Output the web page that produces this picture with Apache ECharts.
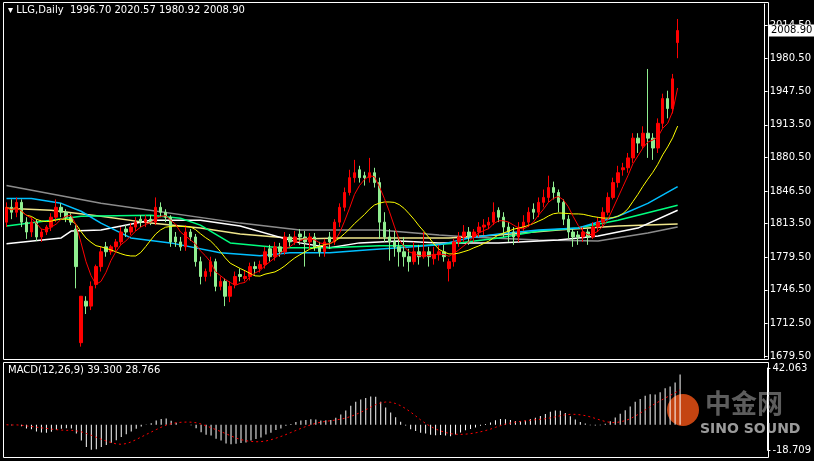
<!DOCTYPE html>
<html><head><meta charset="utf-8">
<script src="https://cdn.jsdelivr.net/npm/echarts@6/dist/echarts.min.js"></script>
<style>html,body{margin:0;padding:0;background:#000}#c{width:814px;height:461px}</style>
</head><body><div id="c"></div>
<script>
const opens = [1815,1830,1825,1835,1815,1805,1815,1800,1805,1810,
1820,1830,1825,1820,1808,1693,1735,1730,1752,1770,
1790,1785,1790,1795,1808,1805,1810,1818,1815,1818,
1815,1830,1825,1820,1800,1795,1790,1805,1800,1775,
1760,1765,1775,1750,1755,1740,1752,1762,1758,1760,
1770,1768,1772,1788,1780,1790,1785,1800,1795,1803,
1800,1795,1800,1790,1785,1800,1795,1815,1830,1845,
1860,1868,1862,1860,1865,1855,1815,1800,1795,1790,
1785,1780,1775,1785,1780,1785,1778,1782,1785,1768,
1775,1795,1800,1805,1800,1805,1810,1812,1815,1827,
1820,1810,1805,1800,1810,1815,1828,1825,1835,1840,
1850,1845,1835,1818,1805,1802,1800,1805,1800,1810,
1815,1825,1840,1855,1868,1870,1880,1900,1892,1905,
1900,1890,1915,1940,1930,1996.70];
const closes = [1830,1825,1835,1815,1805,1815,1800,1805,1810,1820,
1830,1825,1820,1815,1770,1740,1730,1750,1770,1785,
1785,1790,1795,1805,1805,1810,1815,1815,1818,1815,
1830,1825,1820,1795,1795,1790,1805,1800,1775,1760,
1765,1775,1750,1755,1740,1750,1760,1760,1760,1770,
1768,1772,1785,1780,1790,1785,1800,1795,1800,1800,
1795,1800,1790,1785,1795,1795,1815,1830,1845,1860,
1865,1860,1860,1865,1855,1815,1800,1795,1790,1785,
1780,1775,1785,1780,1785,1780,1782,1785,1780,1775,
1795,1800,1805,1800,1805,1810,1812,1815,1825,1820,
1810,1805,1800,1810,1815,1825,1825,1835,1840,1850,
1845,1835,1818,1805,1800,1800,1805,1800,1810,1815,
1825,1840,1855,1865,1870,1880,1900,1895,1905,1900,
1890,1915,1940,1930,1960,2008.90];
const highs = [1835,1838,1840,1838,1820,1820,1818,1808,1812,1824,
1838,1834,1828,1824,1812,1738,1740,1755,1772,1790,
1795,1792,1798,1810,1812,1814,1820,1822,1822,1822,
1840,1835,1828,1822,1805,1800,1812,1808,1803,1780,
1768,1780,1778,1760,1758,1755,1765,1768,1766,1774,
1775,1776,1790,1792,1795,1794,1805,1803,1806,1808,
1806,1804,1804,1795,1798,1805,1818,1834,1850,1868,
1878,1872,1866,1880,1870,1860,1825,1808,1806,1800,
1800,1788,1795,1792,1805,1790,1790,1792,1792,1778,
1798,1805,1812,1810,1808,1815,1818,1820,1835,1830,
1825,1815,1810,1815,1822,1830,1834,1840,1848,1862,
1856,1848,1838,1822,1808,1806,1810,1808,1815,1820,
1830,1845,1860,1872,1875,1885,1905,1905,1912,1970,
1905,1920,1945,1948,1965,2020.57];
const lows = [1810,1818,1820,1810,1798,1800,1796,1795,1802,1806,
1815,1820,1815,1812,1748,1689,1722,1726,1748,1765,
1780,1782,1786,1792,1800,1802,1806,1810,1810,1812,
1812,1820,1815,1790,1790,1786,1786,1796,1770,1752,
1755,1760,1745,1746,1730,1734,1748,1755,1755,1756,
1762,1764,1768,1775,1776,1780,1782,1790,1792,1792,
1770,1788,1786,1780,1780,1788,1792,1810,1826,1842,
1855,1855,1852,1855,1850,1798,1795,1776,1780,1770,
1770,1765,1772,1772,1778,1770,1772,1776,1775,1755,
1770,1790,1795,1792,1795,1800,1802,1808,1812,1815,
1800,1795,1792,1795,1806,1810,1818,1820,1830,1835,
1838,1825,1812,1798,1790,1792,1795,1792,1798,1805,
1810,1822,1838,1850,1862,1865,1875,1885,1890,1880,
1878,1885,1910,1920,1925,1980.92];
// long moving averages: [bar index, value]
const maGray = [[0,1852],[19,1834],[47,1814],[59,1807],[75,1807],[87,1802],[93,1800],[107,1797],[119,1796],[129,1804],[135,1810]];
const maWhite = [[0,1793],[11,1799],[13,1806],[19,1807],[29,1817],[39,1817],[47,1811],[59,1794],[65,1789],[71,1794],[79,1796],[87,1794],[99,1794],[111,1797],[119,1801],[127,1809],[135,1827]];
const maKhaki = [[0,1829],[9,1827],[19,1821],[29,1814],[39,1809],[47,1803],[59,1798],[67,1799],[79,1799],[89,1799],[99,1802],[111,1807],[123,1811],[135,1813]];
const maGreen = [[0,1811],[9,1817],[15,1821],[29,1822],[35,1819],[39,1812],[45,1794],[55,1789],[65,1789],[75,1791],[83,1791],[91,1794],[99,1799],[107,1806],[115,1809],[123,1817],[131,1827],[135,1832]];
const maCyan = [[0,1839],[5,1839],[11,1834],[15,1826],[19,1814],[25,1799],[33,1794],[43,1784],[51,1781],[57,1784],[65,1784],[73,1787],[79,1789],[87,1792],[93,1799],[99,1803],[107,1807],[115,1809],[123,1821],[129,1834],[135,1851]];
const priceTicks = [2014.50,1980.50,1947.50,1913.50,1880.50,1846.50,1813.50,1779.50,1746.50,1712.50,1679.50];
const macdTicks = [42.063,-18.709];
const SLOTS = 153;

function sma(arr,p){return arr.map((v,i)=>{const s=Math.max(0,i-p+1);const w=arr.slice(s,i+1);return +(w.reduce((a,b)=>a+b,0)/w.length).toFixed(2);});}
function ema(arr,p){const k=2/(p+1);let e=arr[0];return arr.map(v=>(e=v*k+e*(1-k)));}
const e12=ema(closes,12), e26=ema(closes,26);
const macd=closes.map((c,i)=>+(e12[i]-e26[i]).toFixed(3));
const signal=sma(macd,9);
const ma5=sma(closes,5), ma13=sma(closes,13);
const cats=Array.from({length:SLOTS},(_,i)=>i);
const candleData=opens.map((o,i)=>[o,closes[i],lows[i],highs[i]]);

const font='DejaVu Sans';
const chart=echarts.init(document.getElementById('c'));
const lineS=(data,color,w,idx)=>({type:'line',data,symbol:'none',xAxisIndex:idx||0,yAxisIndex:idx||0,lineStyle:{color,width:w||1.5},animation:false,z:3});
chart.setOption({
 backgroundColor:'#000',animation:false,
 grid:[{left:4,right:46,top:4,height:354},{left:4,right:46,top:368,height:82}],
 xAxis:[{type:'category',data:cats,gridIndex:0,show:false,boundaryGap:true},
        {type:'category',data:cats,gridIndex:1,show:false,boundaryGap:true}],
 yAxis:[{type:'value',gridIndex:0,position:'right',min:1677.5,max:2035.75,splitLine:{show:false},
   axisLine:{show:true,lineStyle:{color:'#fff'}},axisTick:{show:true,length:3,lineStyle:{color:'#fff'},customValues:priceTicks},
   axisLabel:{color:'#fff',fontFamily:font,fontSize:10,margin:5,customValues:priceTicks,formatter:v=>v.toFixed(2)}},
  {type:'value',gridIndex:1,position:'right',min:-18.709,max:42.063,splitLine:{show:false},
   axisLine:{show:true,lineStyle:{color:'#fff'}},axisTick:{show:true,length:3,lineStyle:{color:'#fff'},customValues:macdTicks},
   axisLabel:{color:'#fff',fontFamily:font,fontSize:10,margin:5,customValues:macdTicks,formatter:v=>v.toFixed(3)}}],
 series:[
  lineS(maGray,'#8c8c8c'),lineS(maKhaki,'#f0e68c'),lineS(maWhite,'#ffffff'),lineS(maGreen,'#00ff7f'),lineS(maCyan,'#00bfff'),
  {type:'candlestick',data:candleData,barWidth:3,z:4,itemStyle:{color:'#ff0000',color0:'#90ee90',borderColor:'#ff0000',borderColor0:'#90ee90',borderWidth:1}},
  Object.assign(lineS(ma13,'#ffff00',1),{z:5}),Object.assign(lineS(ma5,'#ff0000',1),{z:5}),
  {type:'bar',xAxisIndex:1,yAxisIndex:1,data:macd,barWidth:1,itemStyle:{color:'#ffffff'}},
  {type:'line',xAxisIndex:1,yAxisIndex:1,data:signal,symbol:'none',lineStyle:{color:'#ff0000',width:1,type:[2,3]},z:5}
 ]
});
const py=chart.convertToPixel({yAxisIndex:0},closes[closes.length-1]);
chart.setOption({graphic:[
 {type:'rect',shape:{x:3.5,y:2.5,width:765,height:357},style:{fill:'none',stroke:'#fff',lineWidth:1},silent:true},
 {type:'rect',shape:{x:3.5,y:362.5,width:765,height:95},style:{fill:'none',stroke:'#fff',lineWidth:1},silent:true},
 {type:'text',left:8,top:5,style:{text:'▾ LLG,Daily  1996.70 2020.57 1980.92 2008.90',fill:'#fff',font:'10px "DejaVu Sans"'}},
 {type:'text',left:8,top:365,style:{text:'MACD(12,26,9) 39.300 28.766',fill:'#fff',font:'10px "DejaVu Sans"'}},
 {type:'rect',z:100,shape:{x:769,y:py-6,width:45,height:12},style:{fill:'#fff'}},
 {type:'text',z:101,x:771,y:py-5,style:{text:'2008.90',fill:'#000',font:'10px "DejaVu Sans"'}},
 {type:'text',x:705,y:390,style:{text:'中金网',fill:'rgba(170,170,170,0.55)',font:'bold 26px "Noto Sans CJK SC"'}},
 {type:'text',x:700,y:422,style:{text:'SINO SOUND',fill:'rgba(220,220,220,0.7)',font:'bold 14px "DejaVu Sans"'}},
 {type:'circle',shape:{cx:683,cy:410,r:16},style:{fill:'rgba(230,80,20,0.85)'}}
]});
</script></body></html>
